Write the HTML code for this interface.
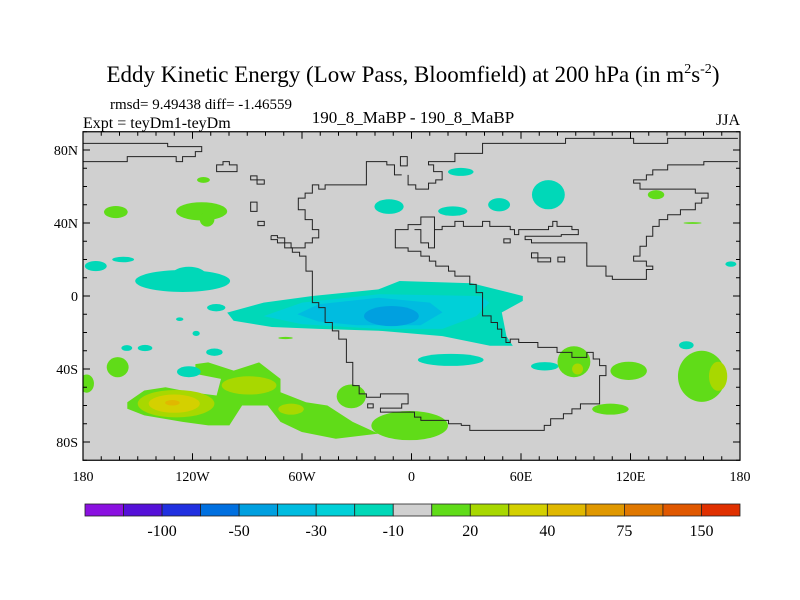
<!DOCTYPE html>
<html><head><meta charset="utf-8"><style>
body{margin:0;background:#fff;}
svg{display:block;font-family:"Liberation Serif",serif;}
</style></head><body>
<svg id="chart" width="800" height="600" viewBox="0 0 800 600">
<rect x="0" y="0" width="800" height="600" fill="#fff"/>
<text x="413" y="82" font-size="23" text-anchor="middle">Eddy Kinetic Energy (Low Pass, Bloomfield) at 200 hPa (in m<tspan dy="-9" font-size="14">2</tspan><tspan dy="9">s</tspan><tspan dy="-9" font-size="14">-2</tspan><tspan dy="9">)</tspan></text>
<text x="110" y="109" font-size="15">rmsd= 9.49438 diff= -1.46559</text>
<text x="83" y="128" font-size="16">Expt = teyDm1-teyDm</text>
<text x="413" y="123" font-size="17" text-anchor="middle">190_8_MaBP - 190_8_MaBP</text>
<text x="740" y="125" font-size="16" text-anchor="end">JJA</text>
<clipPath id="pc"><rect x="83" y="131.75" width="657" height="328.5"/></clipPath>
<rect x="83" y="131.75" width="657" height="328.5" fill="#d0d0d0"/>
<g id="fills" clip-path="url(#pc)"></g>
<g clip-path="url(#pc)">
<g transform="translate(83,131.75) scale(0.42552,0.33182) translate(-6,-5)" fill="none" stroke="#222" stroke-width="1">
<polyline vector-effect="non-scaling-stroke" points="6,40 205,40 205,50 285,50 285,65 270,65 270,80 240,80 240,95 225,95 225,80 110,80 110,95 6,95"/>
<polyline vector-effect="non-scaling-stroke" points="6,60 22,60"/>
<polyline vector-effect="non-scaling-stroke" points="448,318 463,318 463,325 480,325 480,340 495,340 495,355 528,355 528,340 545,340 545,325 560,325 560,300 545,300 545,270 528,270 528,240 512,240 512,205 528,205 528,190 545,190 545,165 560,165 560,178 575,178 575,165 672,165 672,95 720,95 720,105 738,105 738,135 755,135 755,135"/>
<polyline vector-effect="non-scaling-stroke" points="770,135 770,165 788,165 788,178 818,178 818,160 835,160 835,150 850,150 850,125 830,125 830,105 818,105 818,95 880,95 880,70 945,70 945,40 1140,40 1140,25 1300,25 1300,40 1380,40 1380,25 1545,25"/>
<polygon vector-effect="non-scaling-stroke" points="752,80 768,80 768,108 752,108"/>
<polyline vector-effect="non-scaling-stroke" points="1545,95 1465,95 1465,105 1380,105 1380,120 1345,120 1345,135 1330,135 1330,150 1300,150 1300,160 1315,160 1315,178 1445,178 1445,190 1475,190 1475,205 1460,205 1460,220 1445,220 1445,240 1410,240 1410,255 1380,255 1380,270 1360,270 1360,290 1345,290 1345,320 1330,320 1330,350 1315,350 1315,380 1300,380 1300,395 1330,395 1330,410 1345,410 1345,420 1330,420 1330,450 1250,450 1250,440 1235,440 1235,410 1190,410 1190,340 1060,340 1060,330 1045,330 1045,320 1130,320 1130,315 1170,315 1170,300 1155,300 1155,290 1120,290 1120,275 1110,275 1110,290 1100,290 1100,300 1030,300 1030,315 1020,315 1020,300 1010,300 1010,290 962,290 962,275 945,275 945,290 900,290 900,275 880,275 880,290 850,290 850,300 832,300 832,262 800,262 800,285 770,285 770,300 740,300 740,355 770,355 770,365 800,365 800,380 820,380 820,395 835,395 835,410 865,410 865,425 880,425 880,440 915,440 915,465 930,465 930,490 945,490 945,560 965,560 965,580 980,580 980,600 990,600 990,625 1000,625 1000,640 1010,640 1010,630 1030,630 1030,640 1075,640 1075,655 1120,655 1120,670 1155,670 1155,685 1190,685 1190,670 1205,670 1205,690 1220,690 1220,710 1235,710 1235,740 1220,740 1220,825 1175,825 1175,840 1155,840 1155,855 1135,855 1135,870 1105,870 1105,890 1090,890 1090,905 915,905 915,890 895,890 895,885 865,885 865,875 800,875 800,865 785,865 785,850 705,850 705,838 755,838 755,825 770,825 770,795 705,795 705,805 672,805 672,795 655,795 655,770 640,770 640,700 625,700 625,630 607,630 607,605 592,605 592,580 575,580 575,535 560,535 560,520 545,520 545,425 530,425 530,380 515,380 515,368 498,368 498,355 480,355 480,340 463,340 463,330 448,330 448,318"/>
<polyline vector-effect="non-scaling-stroke" points="785,300 800,300 800,340 818,340 818,355 832,355 832,300"/>
<polygon vector-effect="non-scaling-stroke" points="320,105 335,105 335,95 350,95 350,105 368,105 368,125 320,125"/>
<polygon vector-effect="non-scaling-stroke" points="400,138 415,138 415,150 432,150 432,163 415,163 415,150 400,150"/>
<polygon vector-effect="non-scaling-stroke" points="400,217 415,217 415,245 400,245"/>
<polygon vector-effect="non-scaling-stroke" points="417,275 432,275 432,288 417,288"/>
<polygon vector-effect="non-scaling-stroke" points="995,328 1010,328 1010,340 995,340"/>
<polygon vector-effect="non-scaling-stroke" points="1060,370 1075,370 1075,385 1105,385 1105,397 1075,397 1075,385 1060,385"/>
<polygon vector-effect="non-scaling-stroke" points="1122,383 1138,383 1138,397 1122,397"/>
<polygon vector-effect="non-scaling-stroke" points="675,825 688,825 688,837 675,837"/>
</g>
</g>
<g id="axes"></g>
<g id="cbar"></g>
</svg>
<script>
// ---- data ----
const levelColors = ["#8a10e0","#5510d8","#2030e0","#0070e0","#00a0e0","#00bce0","#00d0d8","#00d8b8","#d0d0d0","#60dc18","#a8d800","#d4d000","#e0b800","#e09800","#e07800","#e05800","#e03000"];
const levelLabels = ["-100","-50","-30","-10","20","40","75","150"];
const latTicks = [80,40,0,-40,-80];
const latTickLabels = ["80N","40N","0","40S","80S"];
const lonTicks = [-180,-120,-60,0,60,120,180];
const lonTickLabels = ["180","120W","60W","0","60E","120E","180"];
const cyanMain = [[-101,-9.1],[-81,-3.6],[-54.3,0],[-18.2,3.6],[-6.5,8.2],[33,7],[61,0],[61,-2.7],[49.5,-9],[52,-22],[55.5,-27.3],[43,-27.3],[17,-22],[-18,-19],[-51,-18],[-76.5,-17],[-97.5,-13.6]];
const cyanMid = [[-81,-11],[-60,-3.6],[-18,1],[38,0],[42.7,-3.6],[35.5,-11],[17,-18],[-18,-18],[-60,-15.5]];
const cyanInner = [[-62.5,-10],[-51,-4.5],[-18,-1],[10,-3.6],[17,-9],[5,-16],[-30,-16],[-51,-14]];
const greenSouth = [[-155.7,-58.2],[-146.4,-51.8],[-134.8,-50],[-120.8,-52.7],[-106.8,-54.5],[-104.4,-45.4],[-118.4,-42.7],[-118.4,-37.3],[-111.4,-36.4],[-97.4,-40.9],[-83.5,-36.4],[-71.8,-45.4],[-71.8,-52.7],[-57.8,-58.2],[-46.1,-60],[-32.2,-69],[-18.2,-75.4],[-41.5,-78.2],[-60.1,-74.5],[-71.8,-69],[-78.8,-60],[-92.8,-60],[-99.8,-70.9],[-111.4,-70.9],[-125.4,-69],[-146.4,-65.4],[-155.7,-61.8]];
const polyLevels = [7,6,5,9];
const polyShapes = [cyanMain,cyanMid,cyanInner,greenSouth];
const blobLon = [-11,27,75,-12.3,22.6,48,-173,-158,-125.4,-122,-107,-127,-118,21.5,73,-156,-146,-108,-122,150.6,175,-114,-162,-115,-112,134,154,-69,-161,-178,-33,-1,89,119,109,159,-129,-89,-66,91,168,-130,-131];
const blobLat = [-11,68,55.5,49,46.5,50,16.4,20,8.2,12,-6.4,-12.7,-20.5,-35,-38.5,-28.5,-28.5,-30.8,-41.5,-27,17.5,63.6,46,46.4,42,55.5,40,-23,-39,-48,-55,-71,-36,-41,-62,-44,-59,-49,-62,-40,-44,-59,-58.5];
const blobRx = [15,7,9,8,8,6,6,6,26,9,5,2,2,18,7.5,3,4,4.5,6.5,4,3,3.5,6.5,14,4,4.5,5,4,6,4,8,21,9,10,10,13,21,15,7,3,5,14,4];
const blobRy = [5.5,2.2,8,4,2.6,3.6,2.8,1.5,6,4,2,1,1.4,3.3,2.3,1.6,1.7,2,3,2.2,1.5,1.6,3.3,5,4,2.5,0.5,0.6,5.5,5,6.5,8,8.5,5,3,14,7.5,5,3,3,8,5,1.5];
const blobLevel = [4,7,7,7,7,7,7,7,7,7,7,7,7,7,7,7,7,7,7,7,7,9,9,9,9,9,9,9,9,9,9,9,9,9,9,9,10,10,10,10,10,11,12];

const X0=83, X1=740, Y0=131.75, Y1=460.25;
const xScale = lon => X0 + (lon+180)/360*(X1-X0);
const yScale = lat => Y0 + (90-lat)/180*(Y1-Y0);
const NS="http://www.w3.org/2000/svg";
function mk(tag, attrs, parent){const e=document.createElementNS(NS,tag);for(const k in attrs)e.setAttribute(k,attrs[k]);parent.appendChild(e);return e;}

const fills=document.getElementById('fills');
const items=[];
polyShapes.forEach((p,i)=>items.push({t:'p',lv:polyLevels[i],p}));
blobLon.forEach((v,i)=>items.push({t:'e',lv:blobLevel[i],i}));
const order={9:0,7:0,10:1,6:1,11:2,5:2,12:3,4:3};
items.sort((a,b)=>order[a.lv]-order[b.lv]);
items.forEach(it=>{
  let el;
  if(it.t==='p'){
    const pts=it.p.map(q=>xScale(q[0]).toFixed(1)+','+yScale(q[1]).toFixed(1)).join(' ');
    el=mk('polygon',{points:pts,fill:levelColors[it.lv],'stroke-linejoin':'round'},fills);
  } else {
    const i=it.i;
    el=mk('ellipse',{cx:xScale(blobLon[i]),cy:yScale(blobLat[i]),rx:blobRx[i]*657/360,ry:blobRy[i]*328.5/180,fill:levelColors[blobLevel[i]]},fills);
  }
  
  
});

const ax=document.getElementById('axes');
const frame=mk('rect',{x:X0,y:Y0,width:X1-X0,height:Y1-Y0,fill:'none',stroke:'#000','stroke-width':1.2},ax);


for(let lon=-180;lon<=180;lon+=10){
  const x=xScale(lon), L=(lon%60===0)?7:4;
  const t=mk('path',{d:`M${x},${Y1}v${-L}M${x},${Y0}v${L}`,stroke:'#000','stroke-width':1},ax);
  
  
}
for(let lat=-90;lat<=90;lat+=10){
  const y=yScale(lat), L=(lat%40===0)?7:4;
  const t=mk('path',{d:`M${X0},${y}h${L}M${X1},${y}h${-L}`,stroke:'#000','stroke-width':1},ax);
  
  
}
lonTicks.forEach((v,i)=>{
  const t=mk('text',{x:xScale(v),y:481,'font-size':14,'text-anchor':'middle'},ax);
  t.textContent=lonTickLabels[i];
  
  
});
latTicks.forEach((v,i)=>{
  const t=mk('text',{x:78,y:yScale(v)+5,'font-size':14,'text-anchor':'end'},ax);
  t.textContent=latTickLabels[i];
  
  
});

const cb=document.getElementById('cbar');
const CB0=85, CB1=740, CBy=504, CBh=12, bw=(CB1-CB0)/levelColors.length;
levelColors.forEach((c,i)=>{
  const r=mk('rect',{x:CB0+i*bw,y:CBy,width:bw,height:CBh,fill:c,stroke:'#222','stroke-width':0.8},cb);
  
  
});
levelLabels.forEach((s,i)=>{
  const t=mk('text',{x:CB0+(2+2*i)*bw,y:536,'font-size':16,'text-anchor':'middle'},cb);
  t.textContent=s;
  
  
});
</script>
</body></html>
